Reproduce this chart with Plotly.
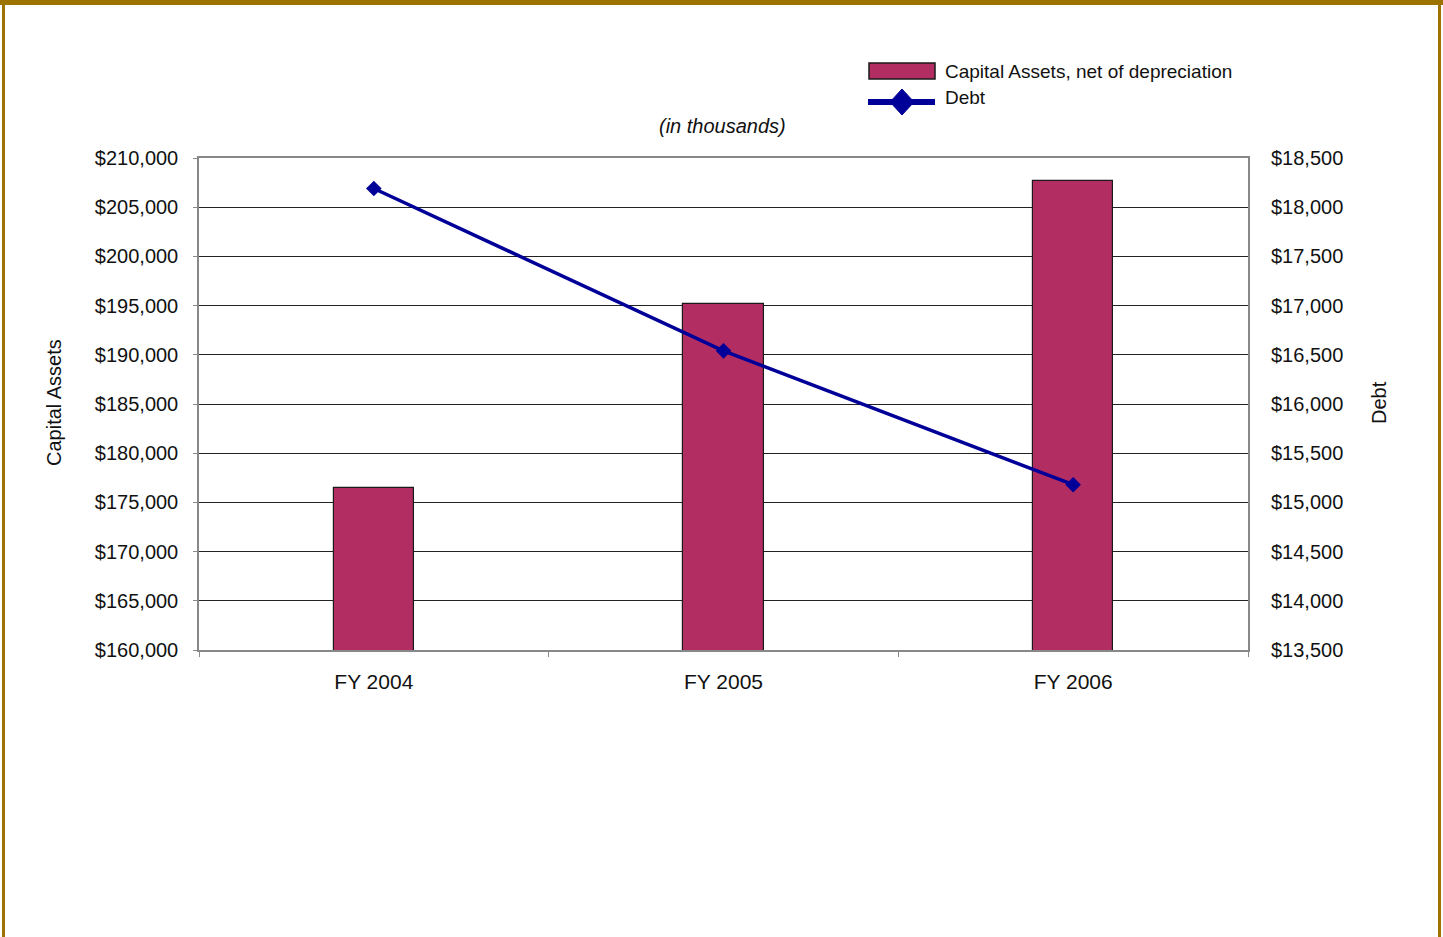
import plotly.graph_objects as go

categories = ["FY 2004", "FY 2005", "FY 2006"]
capital_assets = [176500, 195200, 207700]
debt = [18190, 16540, 15180]

left_ticks = list(range(160000, 210001, 5000))
right_ticks = list(range(13500, 18501, 500))

W, H = 1443, 937
L, R, T, B = 199, 1248, 158, 650

def px(x):
    return (x - L) / (R - L)

def py(y):
    return (B - y) / (B - T)

FONT = "Liberation Sans, Arial, Helvetica, sans-serif"
GOLD = "#9C7300"
BAR = "#B22E62"
NAVY = "#000099"

fig = go.Figure()
fig.add_trace(go.Bar(
    x=categories, y=capital_assets, name="Capital Assets, net of depreciation",
    marker=dict(color=BAR, line=dict(color="#1a1a1a", width=1.2)),
    width=0.229, yaxis="y", showlegend=False))
fig.add_trace(go.Scatter(
    x=categories, y=debt, name="Debt", mode="lines+markers",
    line=dict(color=NAVY, width=3.5),
    marker=dict(symbol="diamond", size=12, color=NAVY),
    yaxis="y2", showlegend=False))

fig.update_layout(
    width=W, height=H,
    margin=dict(l=L, r=W - R, t=T, b=H - B, autoexpand=False),
    paper_bgcolor="white", plot_bgcolor="white",
    font=dict(family=FONT, size=21, color="#111111"),
    showlegend=False,
    bargap=0,
    xaxis=dict(type="category", showgrid=False, showline=True, linecolor="#888888",
               linewidth=1.5, mirror=True, ticks="outside", tickson="boundaries",
               ticklen=5, tickcolor="#888888", tickfont=dict(size=21),
               ticklabelstandoff=12, fixedrange=True),
    yaxis=dict(range=[160000, 210000], tickvals=left_ticks,
               ticktext=["${:,}".format(v) for v in left_ticks],
               showgrid=True, gridcolor="#222222", gridwidth=1,
               showline=True, linecolor="#888888", linewidth=1.5, mirror=True,
               ticks="outside", ticklen=4, tickcolor="#888888",
               ticklabelstandoff=11, zeroline=False, tickfont=dict(size=20)),
    yaxis2=dict(range=[13500, 18500], tickvals=right_ticks,
                ticktext=["${:,}".format(v) for v in right_ticks],
                overlaying="y", side="right", showgrid=False, zeroline=False,
                showline=False, ticks="", ticklabelstandoff=22, tickfont=dict(size=20)),
)

fig.add_annotation(text="<i>(in thousands)</i>", x=px(722), y=py(126), xref="paper", yref="paper",
                   xanchor="center", yanchor="middle", showarrow=False, font=dict(size=20))
fig.add_annotation(text="Capital Assets", x=px(54), y=py(403), xref="paper", yref="paper",
                   xanchor="center", yanchor="middle",
                   textangle=-90, showarrow=False, font=dict(size=20))
fig.add_annotation(text="Debt", x=px(1379), y=py(403), xref="paper", yref="paper",
                   xanchor="center", yanchor="middle",
                   textangle=-90, showarrow=False, font=dict(size=20))

# legend (drawn)
fig.add_shape(type="rect", xref="paper", yref="paper", x0=px(869), x1=px(935), y0=py(79), y1=py(63),
              fillcolor=BAR, line=dict(color="#1a1a1a", width=1.5))
fig.add_shape(type="line", xref="paper", yref="paper", x0=px(868), x1=px(935), y0=py(102), y1=py(102),
              line=dict(color=NAVY, width=6))
cx, cy, hw, hh = 902, 102, 12, 13
fig.add_shape(type="path", xref="paper", yref="paper",
              path=f"M {px(cx-hw)},{py(cy)} L {px(cx)},{py(cy-hh)} L {px(cx+hw)},{py(cy)} L {px(cx)},{py(cy+hh)} Z",
              fillcolor=NAVY, line=dict(color=NAVY, width=1))
fig.add_annotation(text="Capital Assets, net of depreciation", x=px(943), y=py(71), xref="paper", yref="paper",
                   xanchor="left", yanchor="middle", showarrow=False, font=dict(size=19))
fig.add_annotation(text="Debt", x=px(943), y=py(98), xref="paper", yref="paper",
                   xanchor="left", yanchor="middle", showarrow=False, font=dict(size=19))

# page border
fig.add_shape(type="rect", xref="paper", yref="paper", x0=px(0), x1=px(1443), y0=py(5), y1=py(0),
              fillcolor=GOLD, line=dict(width=0), layer="above")
fig.add_shape(type="rect", xref="paper", yref="paper", x0=px(2), x1=px(5), y0=py(937), y1=py(0),
              fillcolor=GOLD, line=dict(width=0), layer="above")
fig.add_shape(type="rect", xref="paper", yref="paper", x0=px(1438), x1=px(1441), y0=py(937), y1=py(0),
              fillcolor=GOLD, line=dict(width=0), layer="above")

fig.write_html("out.html", config={"displayModeBar": False})
